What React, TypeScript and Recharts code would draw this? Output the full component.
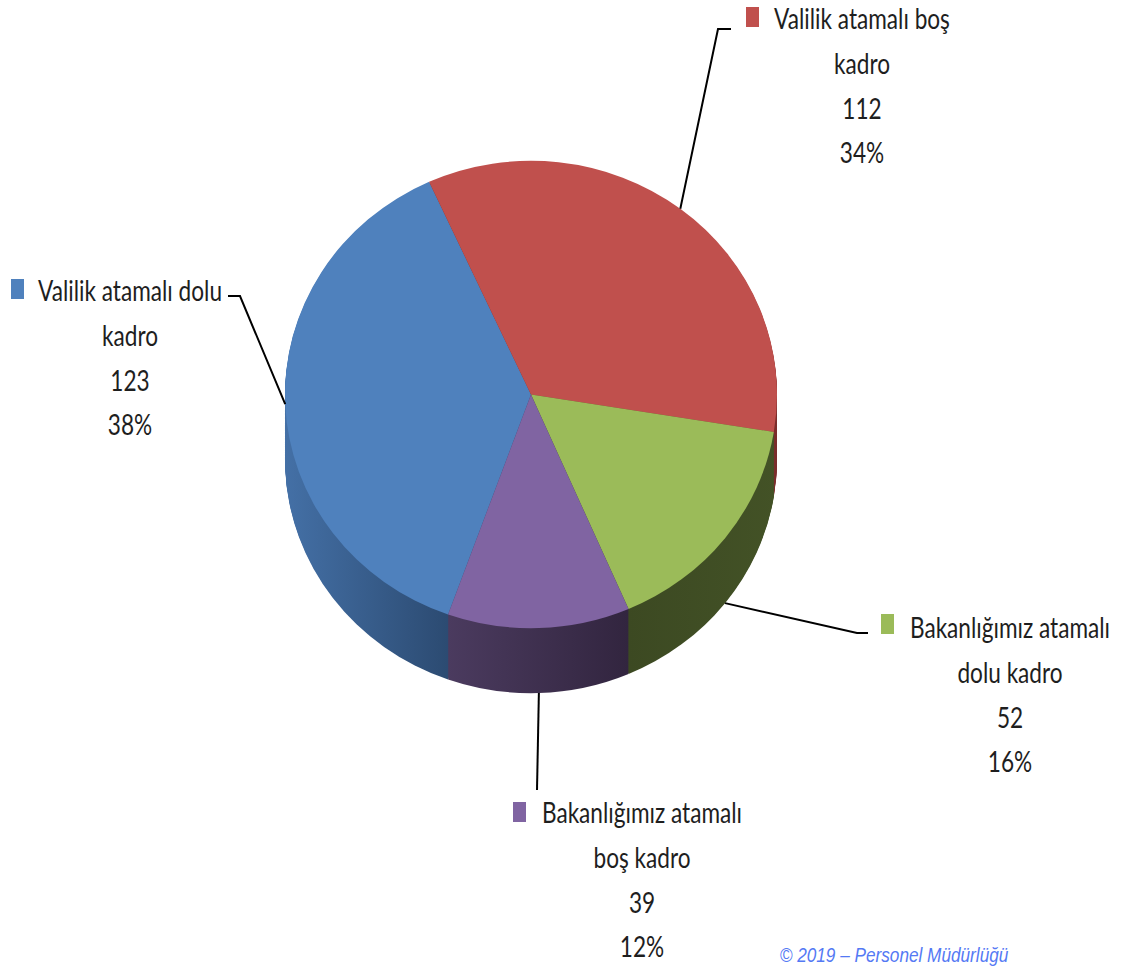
import React from 'react';
import { PieChart, Pie, Cell } from 'recharts';

const categories = [
  ['Valilik atamalı dolu', 'kadro'],
  ['Valilik atamalı boş', 'kadro'],
  ['Bakanlığımız atamalı', 'dolu kadro'],
  ['Bakanlığımız atamalı', 'boş kadro'],
];
const values = [123, 112, 52, 39];
const topColors = ['#4f81bd', '#c0504d', '#9bbb59', '#8064a2'];
const sideFills = ['url(#sideBlue)', 'url(#sideRed)', 'url(#sideGreen)', 'url(#sidePurple)'];

const data = categories.map((c, i) => ({ name: c.join(' '), value: values[i] }));

const W = 1133;
const H = 972;
const CX = 531;
const CY = 394.5;
const R = 246;
const SY = 0.95; // vertical squash of the pie top
const DEPTH = 65;
const START = 250.3;

// where each label block sits
const labelLayout = [
  { pts: [[240, 296], [228, 296]], tx: 130, ty: 290, mx: 11, my: 279 },
  { pts: [[718, 29], [731, 29]], tx: 862, ty: 18, mx: 746, my: 7 },
  { pts: [[857, 633], [868, 633]], tx: 1010, ty: 627, mx: 881, my: 614 },
  { pts: [[537, 790]], tx: 642, ty: 812, mx: 513, my: 802 },
];

const FONT = 'Lato, "Open Sans", sans-serif';
const SX = 0.78;
const LINE = 44.7;

const Line = ({ x, y, children }: { x: number; y: number; children: React.ReactNode }) => (
  <text
    transform={`translate(${x},${y}) scale(${SX},1)`}
    textAnchor="middle"
    dominantBaseline="central"
    fontFamily={FONT}
    fontSize={29}
    fill="#1e1e1e"
  >
    {children}
  </text>
);

const renderLabel = (props: any) => {
  const { midAngle, index, percent, value } = props;
  const rad = (midAngle * Math.PI) / 180;
  const x0 = CX + R * Math.cos(rad);
  let y0 = CY - R * Math.sin(rad) * SY;
  if (Math.sin(rad) < -0.3) y0 += DEPTH;
  const lay = labelLayout[index];
  const path = [[x0, y0], ...lay.pts].map((p) => p.join(',')).join(' ');
  const lines = [...categories[index], String(value), `${Math.round(percent * 100)}%`];
  return (
    <g key={`lbl-${index}`}>
      <polyline points={path} fill="none" stroke="#000" strokeWidth={2} />
      <rect x={lay.mx} y={lay.my} width={13} height={20} fill={topColors[index]} />
      {lines.map((t, i) => (
        <Line key={i} x={lay.tx} y={lay.ty + i * LINE}>
          {t}
        </Line>
      ))}
    </g>
  );
};

const layers = Array.from({ length: DEPTH }, (_, i) => DEPTH - i);

export default function App() {
  return (
    <div style={{ position: 'absolute', left: 0, top: 0, width: W, height: H, background: '#fff' }}>
      <style>{`.pie3d .recharts-pie-sector { transform-origin: ${CX}px ${CY}px; transform: scaleY(${SY}); }`}</style>
      <PieChart width={W} height={H} className="pie3d" margin={{ top: 0, right: 0, bottom: 0, left: 0 }}>
        <defs>
          <linearGradient id="sideBlue" gradientUnits="userSpaceOnUse" x1={285} y1={0} x2={447} y2={0}>
            <stop offset="0" stopColor="#4470a6" />
            <stop offset="1" stopColor="#2c4b72" />
          </linearGradient>
          <linearGradient id="sidePurple" gradientUnits="userSpaceOnUse" x1={447} y1={0} x2={628} y2={0}>
            <stop offset="0" stopColor="#4b3b5f" />
            <stop offset="1" stopColor="#32253f" />
          </linearGradient>
          <linearGradient id="sideGreen" gradientUnits="userSpaceOnUse" x1={628} y1={0} x2={777} y2={0}>
            <stop offset="0" stopColor="#3c4922" />
            <stop offset="1" stopColor="#435226" />
          </linearGradient>
          <linearGradient id="sideRed" gradientUnits="userSpaceOnUse" x1={285} y1={0} x2={777} y2={0}>
            <stop offset="0" stopColor="#7a2d2b" />
            <stop offset="1" stopColor="#7a2d2b" />
          </linearGradient>
        </defs>
        {layers.map((k) => (
          <Pie
            key={`side-${k}`}
            data={data}
            dataKey="value"
            cx={CX}
            cy={CY + k / SY}
            outerRadius={R}
            startAngle={START}
            endAngle={START - 360}
            stroke="none"
            label={false}
            labelLine={false}
            legendType="none"
            isAnimationActive={false}
          >
            {data.map((_, i) => (
              <Cell key={i} fill={sideFills[i]} />
            ))}
          </Pie>
        ))}
        <Pie
          data={data}
          dataKey="value"
          cx={CX}
          cy={CY}
          outerRadius={R}
          startAngle={START}
          endAngle={START - 360}
          stroke="none"
          label={renderLabel}
          labelLine={false}
          legendType="none"
          isAnimationActive={false}
        >
          {data.map((_, i) => (
            <Cell key={i} fill={topColors[i]} />
          ))}
        </Pie>
        <text
          transform={`translate(894,955) scale(0.86,1)`}
          textAnchor="middle"
          dominantBaseline="central"
          fontFamily="Arial, 'Liberation Sans', sans-serif"
          fontStyle="italic"
          fontSize={20}
          fill="#5479f4"
        >
          © 2019 – Personel Müdürlüğü
        </text>
      </PieChart>
    </div>
  );
}
